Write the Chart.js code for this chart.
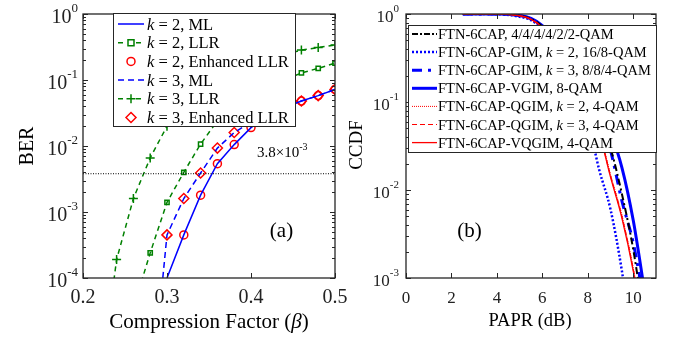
<!DOCTYPE html>
<html><head><meta charset="utf-8">
<script src="https://cdn.jsdelivr.net/npm/chart.js"></script>
<style>
html,body{margin:0;padding:0;background:#fff;width:677px;height:341px;overflow:hidden}
canvas{position:absolute;top:0;background:transparent}
#ca{left:0}
#cb{left:340px}
</style></head><body>
<canvas id="cb" width="337" height="341"></canvas>
<canvas id="ca" width="360" height="341"></canvas>
<script>
// ---------- Panel (a) data ----------
const beta = [0.22,0.24,0.26,0.28,0.30,0.32,0.34,0.36,0.38,0.40,0.42,0.44,0.46,0.48,0.50];
const berK2ML  = [null,null,null,null,1.0e-4,4.5e-4,1.8e-3,5.4e-3,1.05e-2,1.9e-2,2.8e-2,3.8e-2,4.8e-2,5.8e-2,7.2e-2];
const berK2LLR = [null,null,3.5e-5,2.4e-4,1.4e-3,4.0e-3,1.07e-2,2.4e-2,4.0e-2,5.8e-2,7.8e-2,1.0e-1,1.28e-1,1.5e-1,1.8e-1];
const berK2Enh = [null,null,null,null,null,4.5e-4,1.8e-3,5.4e-3,1.05e-2,1.9e-2,2.8e-2,3.8e-2,4.8e-2,5.8e-2,7.2e-2];
const berK3ML  = [null,null,null,1.1e-6,4.5e-4,1.6e-3,3.9e-3,9.3e-3,1.6e-2,2.3e-2,3.1e-2,4.0e-2,4.8e-2,5.8e-2,7.2e-2];
const berK3LLR = [2.2e-6,1.9e-4,1.6e-3,6.6e-3,2.0e-2,4.5e-2,7.5e-2,1.1e-1,1.4e-1,1.7e-1,2.0e-1,2.4e-1,2.85e-1,3.1e-1,3.4e-1];
const berK3Enh = [null,null,null,null,4.5e-4,1.6e-3,3.9e-3,9.3e-3,1.6e-2,2.3e-2,3.1e-2,4.0e-2,4.8e-2,5.8e-2,7.2e-2];
const threshold = 3.8e-3;
const betaRange = [0.2,0.5];
const betaTicks = ['0.2','0.3','0.4','0.5'];
const berExps = [0,-1,-2,-3,-4];

// ---------- Panel (b) data ----------
const papr = [2.5,3,4,5,5.5,6,7,8,8.5,9,9.5,10,10.5,11];
const ccdfFTN    = [1,0.9999,0.998,0.96,0.88,0.72,0.35,0.13,0.07,0.03,0.009,0.0021,0.0003,null];
const ccdfGIMk2  = [1,0.9999,0.996,0.93,0.85,0.67,0.27,0.06,0.017,0.006,0.0012,0.00015,null,null];
const ccdfGIMk3  = [1,0.9999,0.998,0.96,0.88,0.72,0.35,0.125,0.065,0.028,0.0075,0.0025,0.0005,null];
const ccdfVGIM   = [1,0.9999,0.998,0.965,0.89,0.74,0.38,0.15,0.085,0.045,0.018,0.0045,0.0007,null];
const ccdfQGIMk2 = [1,0.9999,0.997,0.955,0.87,0.70,0.32,0.105,0.048,0.015,0.0052,0.0013,0.00024,null];
const ccdfQGIMk3 = [1,0.9999,0.997,0.955,0.87,0.70,0.31,0.10,0.046,0.0145,0.005,0.00125,0.00022,null];
const ccdfVQGIM  = [1,0.9999,0.997,0.955,0.87,0.70,0.31,0.10,0.045,0.014,0.0048,0.0012,0.0002,null];
const paprTicks = ['0','2','4','6','8','10'];
const ccdfExps = [0,-1,-2,-3];

// ---------- helpers ----------
const SERIF = "'Liberation Serif','Times New Roman',serif";
const AXIS = '#262626';
const BLUE = '#0000ff', GREEN = '#008000', RED = '#ff0000';
const pts = (xs, ys) => xs.map((x,i)=>({x, y: ys[i]}));

function fnt(p){ return (p.i?'italic ':'') + p.s + 'px ' + SERIF; }
function rich(ctx, parts, x, y, align){
  let w = 0;
  parts.forEach(p=>{ ctx.font = fnt(p); p.w = ctx.measureText(p.t).width; w += p.w; });
  let cx = align==='right' ? x-w : align==='center' ? x-w/2 : x;
  ctx.textAlign='left'; ctx.textBaseline='alphabetic';
  parts.forEach(p=>{ ctx.font = fnt(p); ctx.fillText(p.t, cx, y+(p.dy||0)); cx += p.w; });
}
function frame(chart, xMajor, yMajor, yMinor){
  const ctx=chart.ctx, a=chart.chartArea, xs=chart.scales.x, ys=chart.scales.y;
  ctx.save(); ctx.strokeStyle=AXIS; ctx.lineWidth=1; ctx.setLineDash([]);
  ctx.beginPath();
  const L=5, S=3;
  xMajor.forEach(v=>{ const p=Math.round(xs.getPixelForValue(v))+0.5;
    ctx.moveTo(p,a.bottom); ctx.lineTo(p,a.bottom-L); ctx.moveTo(p,a.top); ctx.lineTo(p,a.top+L); });
  yMajor.forEach(v=>{ const p=Math.round(ys.getPixelForValue(v))+0.5;
    ctx.moveTo(a.left,p); ctx.lineTo(a.left+L,p); ctx.moveTo(a.right,p); ctx.lineTo(a.right-L,p); });
  yMinor.forEach(v=>{ const p=Math.round(ys.getPixelForValue(v))+0.5;
    ctx.moveTo(a.left,p); ctx.lineTo(a.left+S,p); ctx.moveTo(a.right,p); ctx.lineTo(a.right-S,p); });
  ctx.stroke();
  ctx.lineWidth=1.3;
  ctx.strokeRect(a.left, a.top, a.right-a.left, a.bottom-a.top);
  ctx.restore();
}
function minors(exps){
  const out=[]; const lo=Math.min(...exps), hi=Math.max(...exps);
  for(let e=lo;e<hi;e++) for(let m=2;m<=9;m++) out.push(m*Math.pow(10,e));
  return out;
}
function marker(ctx, style, x, y, color){
  ctx.save(); ctx.setLineDash([]); ctx.strokeStyle=color; ctx.lineWidth=1.5; ctx.beginPath();
  if(style==='circle'){ ctx.arc(x,y,4,0,Math.PI*2); }
  else if(style==='rect'){ ctx.rect(x-3,y-3,6,6); }
  else if(style==='cross'){ ctx.moveTo(x-4.5,y); ctx.lineTo(x+4.5,y); ctx.moveTo(x,y-4.5); ctx.lineTo(x,y+4.5); }
  else if(style==='rectRot'){ ctx.moveTo(x,y-5); ctx.lineTo(x+5,y); ctx.lineTo(x,y+5); ctx.lineTo(x-5,y); ctx.closePath(); }
  ctx.stroke(); ctx.restore();
}
function legendLine(ctx, x1, x2, y, color, width, dash){
  ctx.save(); ctx.strokeStyle=color; ctx.lineWidth=width; ctx.setLineDash(dash||[]);
  ctx.beginPath(); ctx.moveTo(x1,y); ctx.lineTo(x2,y); ctx.stroke(); ctx.restore();
}

// ---------- Panel (a) ----------
const legendA = [
  {k:'2', t:', ML', color:BLUE, dash:[], line:true, mk:null},
  {k:'2', t:', LLR', color:GREEN, dash:[5,4], line:true, mk:'rect'},
  {k:'2', t:', Enhanced LLR', color:RED, dash:[], line:false, mk:'circle'},
  {k:'3', t:', ML', color:BLUE, dash:[6,4], line:true, mk:null},
  {k:'3', t:', LLR', color:GREEN, dash:[5,4], line:true, mk:'cross'},
  {k:'3', t:', Enhanced LLR', color:RED, dash:[], line:false, mk:'rectRot'}
];
const decorA = { id:'decorA', afterDraw(chart){
  const ctx=chart.ctx, a=chart.chartArea, xs=chart.scales.x, ys=chart.scales.y;
  frame(chart, betaTicks.map(Number), berExps.map(e=>Math.pow(10,e)), minors(berExps));
  ctx.save(); ctx.fillStyle='#222';
  betaTicks.forEach(t=>{ rich(ctx,[{t:t,s:20}], xs.getPixelForValue(Number(t)), 303, 'center'); });
  berExps.forEach(e=>{ const p=ys.getPixelForValue(Math.pow(10,e));
    rich(ctx,[{t:'10',s:20},{t:String(e),s:13,dy:-11}], 78, p+8.5, 'right'); });
  ctx.fillStyle='#000';
  rich(ctx,[{t:'Compression Factor (',s:21},{t:'β',s:21,i:true},{t:')',s:21}], (a.left+a.right)/2, 328, 'center');
  ctx.save(); ctx.translate(33, 146); ctx.rotate(-Math.PI/2);
  rich(ctx,[{t:'BER',s:20}],0,0,'center'); ctx.restore();
  rich(ctx,[{t:'3.8×10',s:15},{t:'-3',s:10,dy:-7}], 257, 157, 'left');
  rich(ctx,[{t:'(a)',s:21}], 281.5, 237, 'center');
  // legend
  const bx=113, by=13, bw=182, bh=113;
  ctx.fillStyle='#fff'; ctx.fillRect(bx,by,bw,bh);
  ctx.strokeStyle=AXIS; ctx.lineWidth=1; ctx.strokeRect(bx+0.5,by+0.5,bw,bh);
  legendA.forEach((it,i)=>{
    const y=24+i*18.7;
    if(it.line) legendLine(ctx,118,144,y,it.color,1.5,it.dash);
    if(it.mk){ if(it.line){ ctx.fillStyle='#fff'; ctx.fillRect(126,y-5,10,10);} marker(ctx,it.mk,131,y,it.color); }
    ctx.fillStyle='#000';
    rich(ctx,[{t:'k',s:16.5,i:true},{t:' = '+it.k+it.t,s:16.5}],147,y+5.5,'left');
  });
  ctx.restore();
}};

function ds(label, ys, color, opts){
  return Object.assign({label, data: pts(beta, ys), borderColor: color, backgroundColor:'rgba(0,0,0,0)',
    borderWidth:1.5, pointRadius:0, pointBorderWidth:1.5, pointBorderColor:color,
    pointBackgroundColor:'rgba(0,0,0,0)', showLine:true, spanGaps:false}, opts||{});
}
new Chart(document.getElementById('ca'), {
  type:'line',
  data:{ datasets:[
    {label:'thr', data:[{x:betaRange[0],y:threshold},{x:betaRange[1],y:threshold}], borderColor:'#000', borderWidth:1, borderDash:[1,1.5], pointRadius:0},
    ds('k=2 ML', berK2ML, BLUE),
    ds('k=3 ML', berK3ML, BLUE, {borderDash:[6,4]}),
    ds('k=2 LLR', berK2LLR, GREEN, {borderDash:[5,4], pointRadius:3, pointStyle:'rect'}),
    ds('k=3 LLR', berK3LLR, GREEN, {borderDash:[5,4], pointRadius:4.5, pointStyle:'cross'}),
    ds('k=2 Enh', berK2Enh, RED, {showLine:false, pointRadius:4, pointStyle:'circle'}),
    ds('k=3 Enh', berK3Enh, RED, {showLine:false, pointRadius:5, pointStyle:'rectRot'})
  ]},
  options:{
    responsive:false, animation:false, devicePixelRatio:1,
    layout:{padding:{left:83,right:25,top:14,bottom:63}},
    plugins:{legend:{display:false}, tooltip:{enabled:false}},
    scales:{
      x:{type:'linear', min:betaRange[0], max:betaRange[1], display:false},
      y:{type:'logarithmic', min:1e-4, max:1, display:false}
    }
  },
  plugins:[decorA]
});

// ---------- Panel (b) ----------
const legendB = [
  {parts:[['FTN-6CAP, 4/4/4/4/2/2-QAM']], color:'#000', w:2, dash:[6,2,2,2]},
  {parts:[['FTN-6CAP-GIM, '],['k',1],[' = 2, 16/8-QAM']], color:BLUE, w:2.5, dash:[2,2]},
  {parts:[['FTN-6CAP-GIM, '],['k',1],[' = 3, 8/8/4-QAM']], color:BLUE, w:3, dash:[10,6,3,6]},
  {parts:[['FTN-6CAP-VGIM, 8-QAM']], color:BLUE, w:3, dash:[]},
  {parts:[['FTN-6CAP-QGIM, '],['k',1],[' = 2, 4-QAM']], color:RED, w:1, dash:[1,1]},
  {parts:[['FTN-6CAP-QGIM, '],['k',1],[' = 3, 4-QAM']], color:RED, w:1.2, dash:[5,3]},
  {parts:[['FTN-6CAP-VQGIM, 4-QAM']], color:RED, w:1.3, dash:[]}
];
const decorB = { id:'decorB', afterDraw(chart){
  const ctx=chart.ctx, a=chart.chartArea, xs=chart.scales.x, ys=chart.scales.y;
  frame(chart, paprTicks.map(Number), ccdfExps.map(e=>Math.pow(10,e)), minors(ccdfExps));
  ctx.save(); ctx.fillStyle='#222';
  paprTicks.forEach(t=>{ rich(ctx,[{t:t,s:17}], xs.getPixelForValue(Number(t)), 303, 'center'); });
  ccdfExps.forEach(e=>{ const p=ys.getPixelForValue(Math.pow(10,e));
    rich(ctx,[{t:'10',s:17},{t:String(e),s:11,dy:-10}], 59, p+7.5, 'right'); });
  ctx.fillStyle='#000';
  rich(ctx,[{t:'PAPR (dB)',s:18.5}], 190, 326, 'center');
  ctx.save(); ctx.translate(22, 145); ctx.rotate(-Math.PI/2);
  rich(ctx,[{t:'CCDF',s:19}],0,0,'center'); ctx.restore();
  rich(ctx,[{t:'(b)',s:21}], 129.5, 237, 'center');
  // legend
  const bx=68, by=25, bw=248, bh=127;
  ctx.fillStyle='#fff'; ctx.fillRect(bx,by,bw,bh);
  ctx.strokeStyle=AXIS; ctx.lineWidth=1; ctx.strokeRect(bx+0.5,by+0.5,bw,bh);
  legendB.forEach((it,i)=>{
    const y=34+i*18.1;
    legendLine(ctx,72,97,y,it.color,it.w,it.dash);
    ctx.fillStyle='#000';
    rich(ctx,it.parts.map(p=>({t:p[0],s:14.5,i:!!p[1]})),98,y+5,'left');
  });
  ctx.restore();
}};
function dsb(label, ys, color, w, dash){
  return {label, data: pts(papr, ys), borderColor: color, borderWidth:w, borderDash:dash,
    pointRadius:0, cubicInterpolationMode:'monotone', spanGaps:false};
}
new Chart(document.getElementById('cb'), {
  type:'line',
  data:{ datasets:[
    dsb('VQGIM', ccdfVQGIM, RED, 1.3, []),
    dsb('QGIM k3', ccdfQGIMk3, RED, 1.2, [5,3]),
    dsb('QGIM k2', ccdfQGIMk2, RED, 1, [1,1]),
    dsb('GIM k2', ccdfGIMk2, BLUE, 2.5, [2,2]),
    dsb('FTN', ccdfFTN, '#000', 2, [7,3,2,3]),
    dsb('GIM k3', ccdfGIMk3, BLUE, 3, [10,6,3,6]),
    dsb('VGIM', ccdfVGIM, BLUE, 3, [])
  ]},
  options:{
    responsive:false, animation:false, devicePixelRatio:1,
    layout:{padding:{left:66,right:21,top:14,bottom:63}},
    plugins:{legend:{display:false}, tooltip:{enabled:false}},
    scales:{
      x:{type:'linear', min:0, max:11, display:false},
      y:{type:'logarithmic', min:1e-3, max:1, display:false}
    }
  },
  plugins:[decorB]
});
</script>
</body></html>
